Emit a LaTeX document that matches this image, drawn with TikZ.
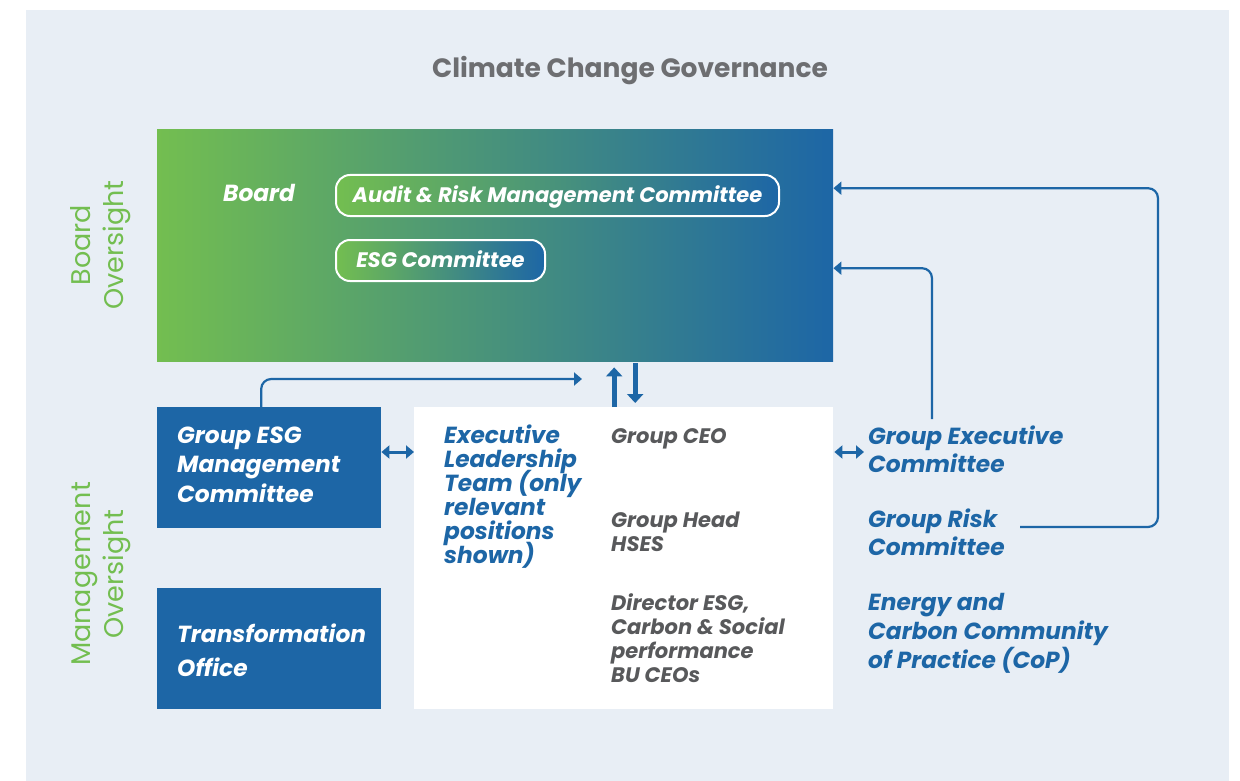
\documentclass[tikz,border=0pt]{standalone}
\usepackage{fontspec}
\setmainfont{Poppins}
\usetikzlibrary{arrows.meta,positioning}

\definecolor{govblue}{HTML}{1D66A6}
\definecolor{govgreen}{HTML}{73BE50}
\definecolor{govgrey}{HTML}{58595B}
\definecolor{titlegrey}{HTML}{6D6E71}
\definecolor{backblue}{HTML}{E8EEF5}
\setlength{\lineskiplimit}{-30pt}

\begin{document}
\begin{tikzpicture}[x=1pt,y=-1pt,
	panel/.style={fill=govblue, inner sep=0, anchor=north west, minimum width=224, minimum height=121},
	pill/.style={draw=white, line width=2pt, rounded corners=14pt, left color=govgreen, right color=govblue, inner sep=0, minimum height=41, text=white, font=\fontsize{21}{24}\selectfont\bfseries\itshape, text height=15pt, text depth=2pt},
	lbl/.style={font=\fontsize{23.3}{29.5}\selectfont\bfseries\itshape, align=left, inner sep=0, anchor=base west},
	role/.style={lbl, font=\fontsize{21}{24}\selectfont\bfseries\itshape, text=govgrey},
	side/.style={font=\fontsize{27}{33}\selectfont, text=govgreen, align=center, rotate=90, inner sep=0},
	link/.style={draw=govblue, line width=2.2pt, rounded corners=10pt, -{Triangle[length=8pt,width=13pt]}},
	both/.style={draw=govblue, line width=3pt, {Triangle[length=8pt,width=13pt]}-{Triangle[length=8pt,width=13pt]}},
	fat/.style={draw=govblue, line width=5pt, -{Triangle[length=9pt,width=16pt]}}
]
	\useasboundingbox (0,0) rectangle (1240,781);
	\fill[backblue] (26,10) rectangle (1229,781);

	\node[font=\fontsize{26.5}{30}\selectfont\bfseries, text=titlegrey] (title) at (630,71) {Climate Change Governance};

	\node[side] (boardside) at (101,245) {Board\\Oversight};
	\node[side] (mgmtside) at (101,574) {Management\\Oversight};

	\node[left color=govgreen, right color=govblue, inner sep=0, anchor=north west, minimum width=676, minimum height=232] (board) at (157,129) {};
	\node[lbl, text=white] (boardlbl) at (223,201) {Board};
	\node[pill, minimum width=443, anchor=north west] (audit) at (335,174) {Audit \& Risk Management Committee};
	\node[pill, minimum width=209, anchor=north west] (esgc) at (335,239) {ESG Committee};

	\node[panel] (esgmc) at (157,407) {};
	\node[lbl, text=white] (esgmctxt) at (177,502) {Group ESG\\Management\\Committee};
	\node[panel] (tro) at (157,588) {};
	\node[lbl, text=white, font=\fontsize{23.3}{34}\selectfont\bfseries\itshape] (trotxt) at (177,676) {Transformation\\Office};

	\node[fill=white, inner sep=0, anchor=north west, minimum width=419, minimum height=302] (elt) at (414,407) {};
	\node[lbl, text=govblue, font=\fontsize{23.3}{24}\selectfont\bfseries\itshape] (elttxt) at (444,563) {Executive\\Leadership\\Team (only\\relevant\\positions\\shown)};
	\node[role] (ceo) at (611,443) {Group CEO};
	\node[role] (hses) at (611,551) {Group Head\\HSES};
	\node[role] (dir) at (611,682) {Director ESG,\\Carbon \& Social\\performance\\BU CEOs};

	\node[lbl, text=govblue, font=\fontsize{23.3}{28.5}\selectfont\bfseries\itshape] (gec) at (868,472.5) {Group Executive\\Committee};
	\node[lbl, text=govblue, font=\fontsize{23.3}{28.5}\selectfont\bfseries\itshape] (grc) at (868,555.5) {Group Risk\\Committee};
	\node[lbl, text=govblue, font=\fontsize{23.3}{29}\selectfont\bfseries\itshape] (cop) at (868,668) {Energy and\\Carbon Community\\of Practice (CoP)};

	\coordinate (midy) at (0,452);
	\coordinate (esgup) at (582,379);
	\coordinate (gectop) at (932,419);
	\coordinate (grcout) at (1020,527);
	\coordinate (rail) at (1158,0);
	\coordinate (boardtop) at ([yshift=57pt]board.east);
	\coordinate (boardmid) at ([yshift=-23pt]board.east);

	\draw[link] ([xshift=-8pt]esgmc.north) |- (esgup);
	\draw[fat] ([xshift=-9.5pt]elt.north) -- ([xshift=-9.5pt,yshift=-6pt]elt.north |- board.south);
	\draw[fat] ([xshift=11.5pt,yshift=-2pt]elt.north |- board.south) -- ([xshift=11.5pt,yshift=4pt]elt.north);

	\draw[both] (esgmc.east |- midy) -- (elt.west |- midy);
	\draw[both, shorten >=4pt] ([xshift=1pt]elt.east |- midy) -- (gec.west |- midy);

	\draw[link] (gectop) |- (boardmid);
	\draw[link] (grcout) -- (grcout -| rail) |- (boardtop);
\end{tikzpicture}
\end{document}
